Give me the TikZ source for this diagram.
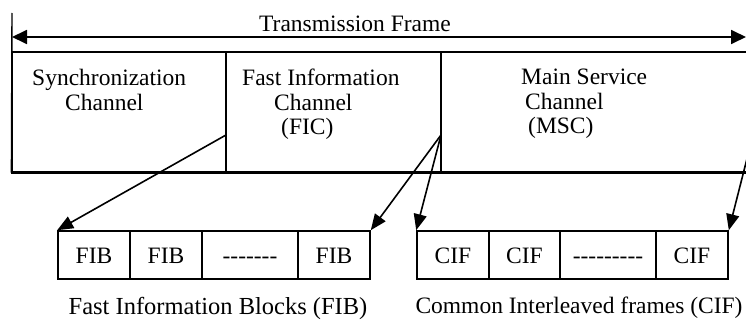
\documentclass[tikz,border=0pt]{standalone}
\usepackage{fontspec}
\setmainfont{Liberation Serif}[Ligatures=TeXOff]
\usetikzlibrary{arrows.meta}
\begin{document}
\begin{tikzpicture}[x=1pt,y=-1pt,
  txt/.style={font=\fontsize{23.5}{24.5}\selectfont, inner sep=0pt},
  frame/.style={draw, line width=1.2pt, inner sep=0pt},
  cell/.style={draw, line width=1.6pt, inner sep=0pt, minimum height=48pt,
    text height=16pt, text depth=0pt, font=\fontsize{23.5}{28}\selectfont},
  link/.style={line width=1.6pt, -{Triangle[length=16pt,width=13pt]}},
  span/.style={line width=1.8pt, {Triangle[length=15pt,width=14pt]}-{Triangle[length=15pt,width=14pt]}}]
\useasboundingbox (0,0) rectangle (746,321);
\clip (0,0) rectangle (746,321);
% transmission frame
\node[txt, anchor=base] (title) at (355,32) {Transmission Frame};
\coordinate (tl) at (12,13);
\coordinate (al) at (12,37);
\coordinate (ar) at (746,37);
\draw[span] (al) -- (ar);
% main frame cells
\node[frame, minimum width=214pt, minimum height=120pt] (sync) at (119,112) {};
\node[frame, minimum width=215pt, minimum height=120pt] (fic) at (333.5,112) {};
\node[frame, minimum width=319pt, minimum height=120pt] (msc) at (600.5,112) {};
\draw[line width=1.4pt] (tl) -- (sync.south west);
\draw[line width=2.2pt] (sync.south west) -- (msc.south east);
\node[txt, anchor=north west, align=left] (synct) at (32,69)
  {Synchronization\\\hspace*{33pt}Channel};
\node[txt, anchor=north west, align=left] (fict) at (242,69)
  {Fast Information\\\hspace*{32pt}Channel\\\hspace*{39pt}(FIC)};
\node[txt, anchor=north west, align=left] (msct) at (521,69)
  {Main Service\\\hspace*{4pt}Channel\\\hspace*{7pt}(MSC)};
% FIB row
\node[cell, minimum width=72pt] (fib1) at (94,255) {FIB};
\node[cell, minimum width=72pt] (fib2) at (166,255) {FIB};
\node[cell, minimum width=96pt] (fibd) at (250,255) {-------};
\node[cell, minimum width=72pt] (fib4) at (334,255) {FIB};
\node[txt, anchor=base, font=\fontsize{24.5}{28}\selectfont] (fibcap) at (218,314) {Fast Information Blocks (FIB)};
% CIF row
\node[cell, minimum width=72pt] (cif1) at (453,255) {CIF};
\node[cell, minimum width=71pt] (cif2) at (524.5,255) {CIF};
\node[cell, minimum width=96pt] (cifd) at (608,255) {---------};
\node[cell, minimum width=72pt] (cif4) at (692,255) {CIF};
\node[txt, anchor=base] (cifcap) at (579,313) {Common Interleaved frames (CIF)};
% links
\coordinate (ficout) at (226,135);
\coordinate (mscout) at (441,135);
\coordinate (mscend) at (753,135);
\draw[link] (ficout) -- (fib1.north west);
\draw[link] (mscout) -- (fib4.north east);
\draw[link] (mscout) -- (cif1.north west);
\draw[link] (mscend) -- (cif4.north east);
\end{tikzpicture}
\end{document}
